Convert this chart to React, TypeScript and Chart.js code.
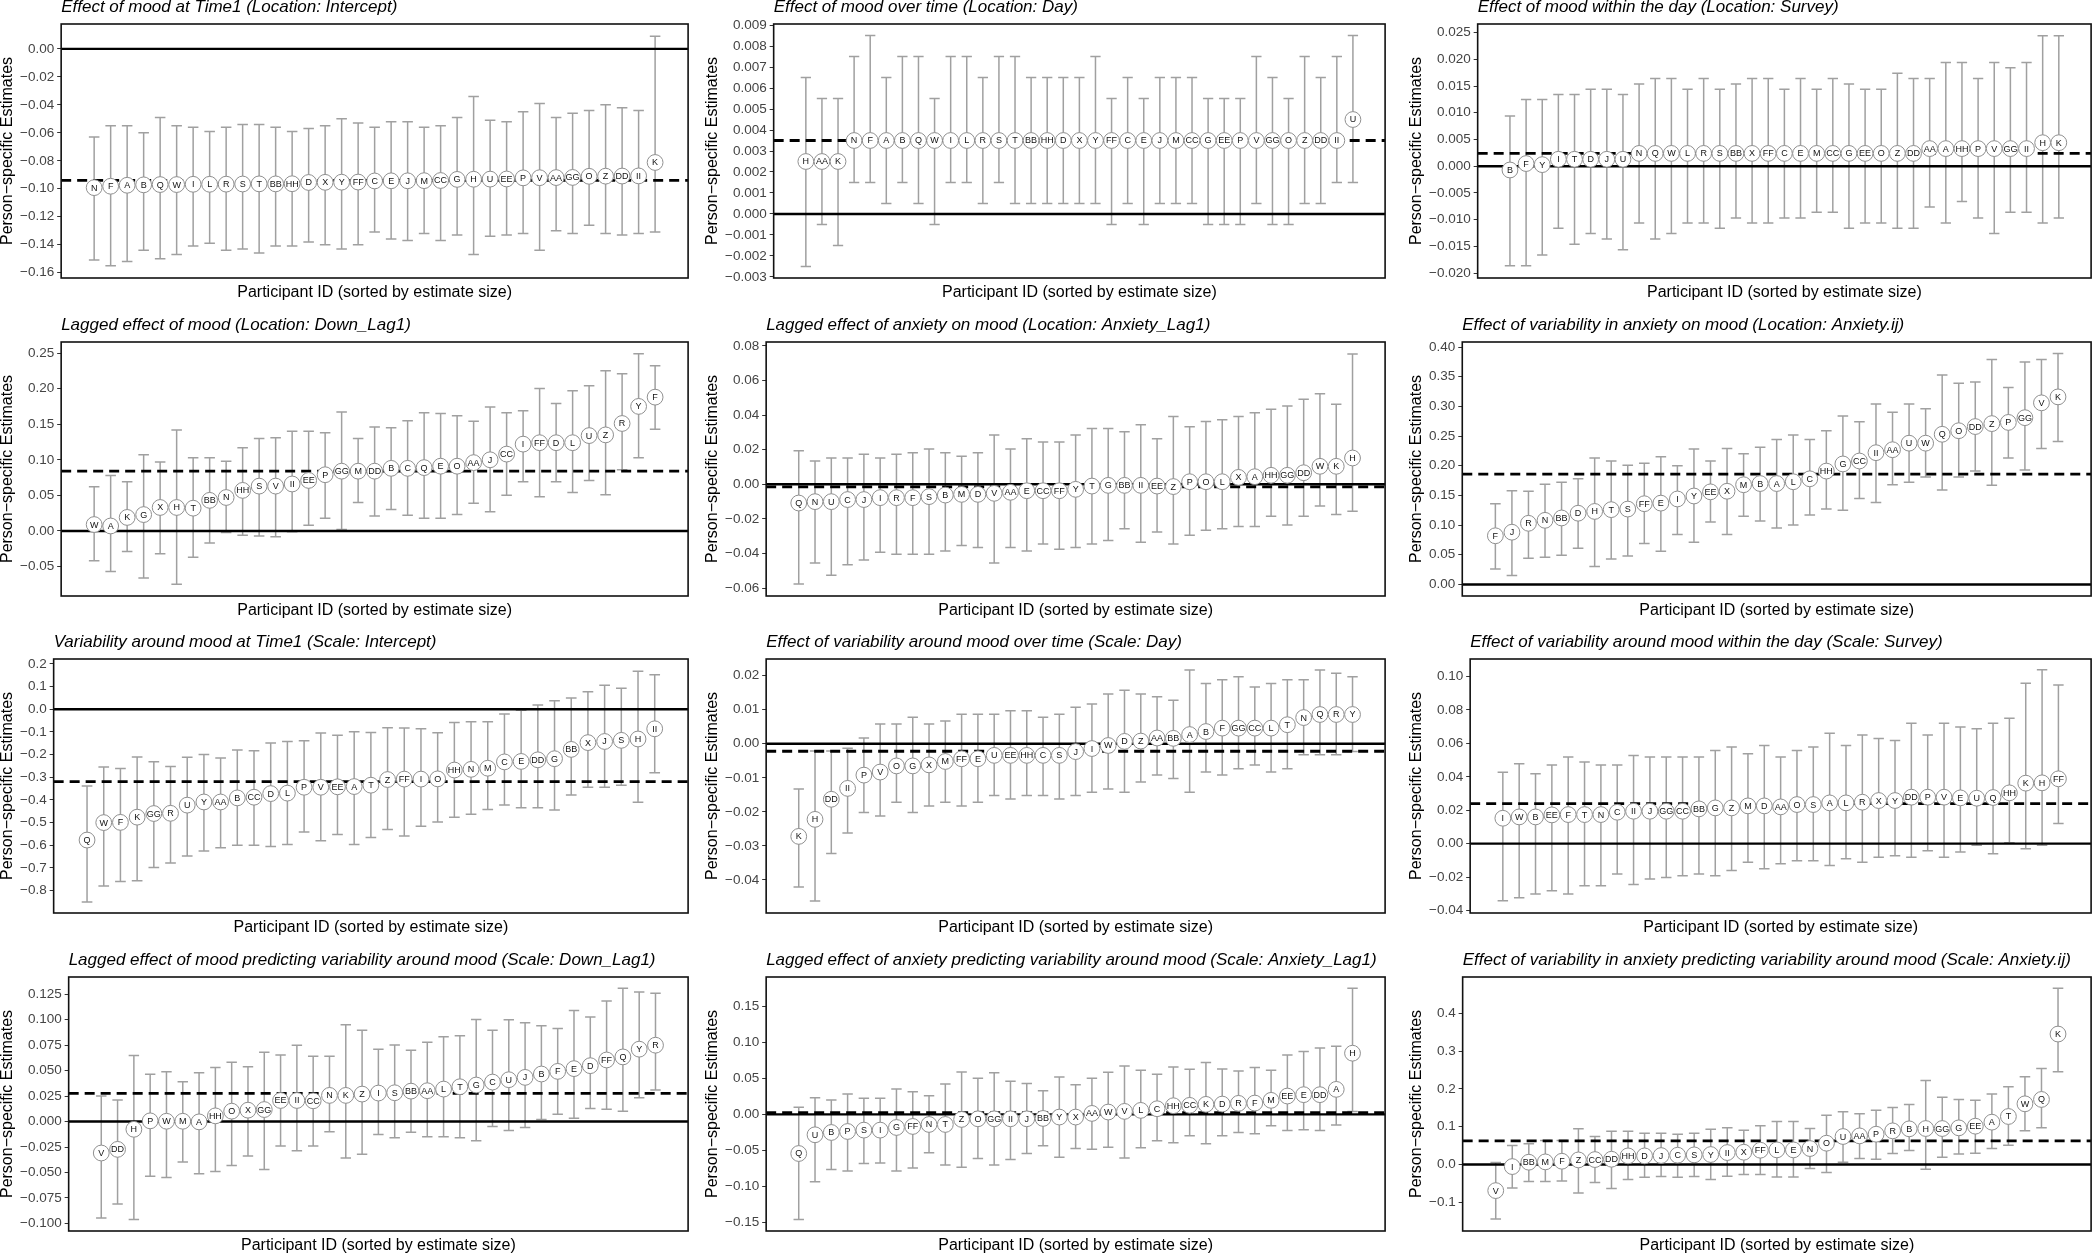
import React, { useEffect, useRef } from "react";
import { Chart, registerables } from "chart.js";

Chart.register(...registerables);

const FONT = '"Liberation Sans", Arial, Helvetica, sans-serif';
Chart.defaults.font.family = FONT;

const Y_TITLE = "Person\u2212specific Estimates";
const X_TITLE = "Participant ID (sorted by estimate size)";

// ---------- Panel 1 ----------
const title1 = "Effect of mood at Time1 (Location: Intercept)";
const ids1 = ["N","F","A","B","Q","W","I","L","R","S","T","BB","HH","D","X","Y","FF","C","E","J","M","CC","G","H","U","EE","P","V","AA","GG","O","Z","DD","II","K"];
const est1 = [-0.0992,-0.0982,-0.0975,-0.0972,-0.097,-0.097,-0.0968,-0.0968,-0.0967,-0.0966,-0.0965,-0.0965,-0.0964,-0.0955,-0.0954,-0.0953,-0.0952,-0.0944,-0.0943,-0.0943,-0.0942,-0.0941,-0.0933,-0.0932,-0.0931,-0.093,-0.0922,-0.0921,-0.092,-0.0919,-0.0911,-0.091,-0.0909,-0.0908,-0.0812];
const hi1 = [-0.063,-0.055,-0.055,-0.06,-0.049,-0.055,-0.056,-0.059,-0.056,-0.054,-0.054,-0.056,-0.059,-0.057,-0.055,-0.05,-0.053,-0.056,-0.052,-0.052,-0.056,-0.055,-0.049,-0.034,-0.051,-0.052,-0.045,-0.039,-0.049,-0.046,-0.044,-0.04,-0.042,-0.044,0.009];
const lo1 = [-0.151,-0.155,-0.152,-0.144,-0.15,-0.147,-0.141,-0.139,-0.144,-0.143,-0.146,-0.141,-0.141,-0.138,-0.14,-0.143,-0.14,-0.131,-0.136,-0.137,-0.132,-0.137,-0.133,-0.147,-0.134,-0.133,-0.132,-0.144,-0.13,-0.132,-0.126,-0.132,-0.133,-0.132,-0.131];
const mean1 = -0.094;
const range1 = [-0.1638, 0.0178];
const ticks1 = [-0.16,-0.14,-0.12,-0.1,-0.08,-0.06,-0.04,-0.02,0];
const tickLabels1 = ["\u22120.16","\u22120.14","\u22120.12","\u22120.10","\u22120.08","\u22120.06","\u22120.04","\u22120.02","0.00"];

// ---------- Panel 2 ----------
const title2 = "Effect of mood over time (Location: Day)";
const ids2 = ["H","AA","K","N","F","A","B","Q","W","I","L","R","S","T","BB","HH","D","X","Y","FF","C","E","J","M","CC","G","EE","P","V","GG","O","Z","DD","II","U"];
const est2 = [0.0025,0.0025,0.0025,0.0035,0.0035,0.0035,0.0035,0.0035,0.0035,0.0035,0.0035,0.0035,0.0035,0.0035,0.0035,0.0035,0.0035,0.0035,0.0035,0.0035,0.0035,0.0035,0.0035,0.0035,0.0035,0.0035,0.0035,0.0035,0.0035,0.0035,0.0035,0.0035,0.0035,0.0035,0.0045];
const hi2 = [0.0065,0.0055,0.0055,0.0075,0.0085,0.0065,0.0075,0.0075,0.0055,0.0075,0.0075,0.0065,0.0075,0.0075,0.0065,0.0065,0.0065,0.0065,0.0075,0.0055,0.0065,0.0055,0.0065,0.0065,0.0065,0.0055,0.0055,0.0055,0.0075,0.0065,0.0055,0.0075,0.0065,0.0075,0.0085];
const lo2 = [-0.0025,-0.0005,-0.0015,0.0015,0.0015,0.0005,0.0015,0.0005,-0.0005,0.0015,0.0015,0.0005,0.0015,0.0005,0.0005,0.0005,0.0005,0.0005,0.0005,-0.0005,0.0005,-0.0005,0.0005,0.0005,0.0005,-0.0005,-0.0005,-0.0005,0.0005,-0.0005,-0.0005,0.0005,0.0005,0.0015,0.0015];
const mean2 = 0.0035;
const range2 = [-0.00305, 0.00905];
const ticks2 = [-0.003,-0.002,-0.001,0,0.001,0.002,0.003,0.004,0.005,0.006,0.007,0.008,0.009];
const tickLabels2 = ["\u22120.003","\u22120.002","\u22120.001","0.000","0.001","0.002","0.003","0.004","0.005","0.006","0.007","0.008","0.009"];

// ---------- Panel 3 ----------
const title3 = "Effect of mood within the day (Location: Survey)";
const ids3 = ["B","F","Y","I","T","D","J","U","N","Q","W","L","R","S","BB","X","FF","C","E","M","CC","G","EE","O","Z","DD","AA","A","HH","P","V","GG","II","H","K"];
const est3 = [-0.0007,0.0005,0.0003,0.0013,0.0013,0.0013,0.0013,0.0013,0.0024,0.0024,0.0024,0.0024,0.0024,0.0024,0.0024,0.0024,0.0024,0.0024,0.0024,0.0024,0.0024,0.0024,0.0024,0.0024,0.0024,0.0024,0.0033,0.0033,0.0033,0.0033,0.0033,0.0033,0.0033,0.0044,0.0044];
const hi3 = [0.0094,0.0125,0.0125,0.0134,0.0134,0.0144,0.0144,0.0134,0.0154,0.0164,0.0164,0.0144,0.0164,0.0144,0.0154,0.0164,0.0164,0.0144,0.0164,0.0144,0.0164,0.0154,0.0144,0.0144,0.0174,0.0164,0.0164,0.0194,0.0194,0.0164,0.0194,0.0184,0.0194,0.0244,0.0244];
const lo3 = [-0.0186,-0.0186,-0.0166,-0.0116,-0.0146,-0.0126,-0.0136,-0.0156,-0.0106,-0.0136,-0.0126,-0.0106,-0.0106,-0.0116,-0.0097,-0.0106,-0.0106,-0.0097,-0.0097,-0.0086,-0.0086,-0.0116,-0.0106,-0.0106,-0.0116,-0.0116,-0.0076,-0.0106,-0.0066,-0.0097,-0.0126,-0.0086,-0.0086,-0.0106,-0.0097];
const mean3 = 0.0024;
const range3 = [-0.0209, 0.0266];
const ticks3 = [-0.02,-0.015,-0.01,-0.005,0,0.005,0.01,0.015,0.02,0.025];
const tickLabels3 = ["\u22120.020","\u22120.015","\u22120.010","\u22120.005","0.000","0.005","0.010","0.015","0.020","0.025"];

// ---------- Panel 4 ----------
const title4 = "Lagged effect of mood (Location: Down_Lag1)";
const ids4 = ["W","A","K","G","X","H","T","BB","N","HH","S","V","II","EE","P","GG","M","DD","B","C","Q","E","O","AA","J","CC","I","FF","D","L","U","Z","R","Y","F"];
const est4 = [0.009,0.007,0.019,0.023,0.033,0.033,0.032,0.043,0.047,0.057,0.063,0.063,0.066,0.071,0.079,0.084,0.084,0.084,0.088,0.088,0.089,0.091,0.091,0.096,0.1,0.108,0.122,0.124,0.124,0.124,0.134,0.135,0.151,0.175,0.188];
const hi4 = [0.062,0.078,0.069,0.107,0.097,0.142,0.103,0.103,0.098,0.117,0.13,0.131,0.14,0.14,0.138,0.167,0.13,0.146,0.145,0.155,0.166,0.165,0.162,0.154,0.174,0.166,0.169,0.2,0.179,0.197,0.204,0.225,0.221,0.249,0.232];
const lo4 = [-0.042,-0.057,-0.029,-0.066,-0.032,-0.075,-0.037,-0.017,-0.002,-0.006,-0.007,-0.008,-0.001,0.008,0.018,0.002,0.04,0.021,0.03,0.022,0.018,0.018,0.023,0.039,0.027,0.05,0.069,0.048,0.069,0.054,0.071,0.051,0.086,0.103,0.143];
const mean4 = 0.084;
const range4 = [-0.0914, 0.2655];
const ticks4 = [-0.05,0,0.05,0.1,0.15,0.2,0.25];
const tickLabels4 = ["\u22120.05","0.00","0.05","0.10","0.15","0.20","0.25"];

// ---------- Panel 5 ----------
const title5 = "Lagged effect of anxiety on mood (Location: Anxiety_Lag1)";
const ids5 = ["Q","N","U","C","J","I","R","F","S","B","M","D","V","AA","E","CC","FF","Y","T","G","BB","II","EE","Z","P","O","L","X","A","HH","GG","DD","W","K","H"];
const est5 = [-0.0108,-0.01,-0.01,-0.0088,-0.0088,-0.0077,-0.0077,-0.0077,-0.0071,-0.0062,-0.0058,-0.0058,-0.0052,-0.0046,-0.0037,-0.0037,-0.0037,-0.0029,-0.001,-0.0006,-0.0006,-0.0006,-0.001,-0.0013,0.0015,0.0015,0.0015,0.004,0.0044,0.0052,0.0052,0.0067,0.0104,0.0104,0.0152];
const hi5 = [0.0194,0.0135,0.0152,0.0152,0.0173,0.0152,0.0173,0.0183,0.0204,0.0183,0.0162,0.0183,0.0285,0.0204,0.0263,0.0244,0.0244,0.0285,0.0323,0.0323,0.0304,0.0344,0.0263,0.0392,0.0333,0.0363,0.0373,0.0392,0.0413,0.0433,0.0452,0.0492,0.0523,0.0463,0.0752];
const lo5 = [-0.0575,-0.0454,-0.0525,-0.0465,-0.0437,-0.0392,-0.0404,-0.0404,-0.0404,-0.0385,-0.0354,-0.0365,-0.0454,-0.0365,-0.0385,-0.0344,-0.0375,-0.0365,-0.0344,-0.0325,-0.0256,-0.0335,-0.0275,-0.0344,-0.0294,-0.0265,-0.0256,-0.0244,-0.0244,-0.0185,-0.0235,-0.0185,-0.0125,-0.0175,-0.0156];
const mean5 = -0.0015;
const range5 = [-0.0645, 0.0822];
const ticks5 = [-0.06,-0.04,-0.02,0,0.02,0.04,0.06,0.08];
const tickLabels5 = ["\u22120.06","\u22120.04","\u22120.02","0.00","0.02","0.04","0.06","0.08"];

// ---------- Panel 6 ----------
const title6 = "Effect of variability in anxiety on mood (Location: Anxiety.ij)";
const ids6 = ["F","J","R","N","BB","D","H","T","S","FF","E","I","Y","EE","X","M","B","A","L","C","HH","G","CC","II","AA","U","W","Q","O","DD","Z","P","GG","V","K"];
const est6 = [0.082,0.088,0.103,0.108,0.112,0.12,0.123,0.126,0.127,0.136,0.137,0.144,0.149,0.156,0.157,0.168,0.17,0.17,0.173,0.178,0.191,0.203,0.208,0.222,0.227,0.238,0.238,0.253,0.259,0.266,0.271,0.273,0.281,0.306,0.316];
const hi6 = [0.136,0.158,0.157,0.169,0.172,0.178,0.213,0.208,0.201,0.204,0.215,0.2,0.228,0.208,0.229,0.22,0.231,0.244,0.252,0.244,0.259,0.284,0.274,0.304,0.29,0.304,0.296,0.353,0.339,0.341,0.379,0.332,0.375,0.379,0.389];
const lo6 = [0.026,0.015,0.044,0.046,0.049,0.061,0.03,0.043,0.048,0.069,0.056,0.084,0.071,0.105,0.084,0.115,0.107,0.095,0.1,0.117,0.127,0.125,0.145,0.138,0.168,0.172,0.181,0.159,0.181,0.191,0.167,0.213,0.193,0.229,0.241];
const mean6 = 0.186;
const range6 = [-0.0195, 0.4085];
const ticks6 = [0,0.05,0.1,0.15,0.2,0.25,0.3,0.35,0.4];
const tickLabels6 = ["0.00","0.05","0.10","0.15","0.20","0.25","0.30","0.35","0.40"];

// ---------- Panel 7 ----------
const title7 = "Variability around mood at Time1 (Scale: Intercept)";
const ids7 = ["Q","W","F","K","GG","R","U","Y","AA","B","CC","D","L","P","V","EE","A","T","Z","FF","I","O","HH","N","M","C","E","DD","G","BB","X","J","S","H","II"];
const est7 = [-0.577,-0.5,-0.499,-0.476,-0.46,-0.459,-0.423,-0.409,-0.409,-0.391,-0.388,-0.372,-0.37,-0.344,-0.344,-0.342,-0.341,-0.335,-0.31,-0.308,-0.308,-0.307,-0.268,-0.265,-0.26,-0.232,-0.23,-0.223,-0.218,-0.177,-0.147,-0.142,-0.137,-0.131,-0.086];
const hi7 = [-0.338,-0.255,-0.261,-0.211,-0.232,-0.252,-0.212,-0.199,-0.215,-0.18,-0.183,-0.149,-0.142,-0.139,-0.105,-0.115,-0.099,-0.102,-0.081,-0.083,-0.086,-0.103,-0.058,-0.055,-0.055,-0.021,-0.004,0.019,0.038,0.05,0.077,0.106,0.093,0.168,0.152];
const lo7 = [-0.851,-0.78,-0.76,-0.757,-0.698,-0.678,-0.647,-0.625,-0.611,-0.6,-0.6,-0.605,-0.597,-0.541,-0.58,-0.552,-0.597,-0.566,-0.531,-0.559,-0.516,-0.497,-0.476,-0.463,-0.442,-0.422,-0.435,-0.434,-0.444,-0.378,-0.344,-0.344,-0.335,-0.41,-0.28];
const mean7 = -0.319;
const range7 = [-0.899, 0.222];
const ticks7 = [-0.8,-0.7,-0.6,-0.5,-0.4,-0.3,-0.2,-0.1,0,0.1,0.2];
const tickLabels7 = ["\u22120.8","\u22120.7","\u22120.6","\u22120.5","\u22120.4","\u22120.3","\u22120.2","\u22120.1","0.0","0.1","0.2"];

// ---------- Panel 8 ----------
const title8 = "Effect of variability around mood over time (Scale: Day)";
const ids8 = ["K","H","DD","II","P","V","O","G","X","M","FF","E","U","EE","HH","C","S","J","I","W","D","Z","AA","BB","A","B","F","GG","CC","L","T","N","Q","R","Y"];
const est8 = [-0.0272,-0.0222,-0.0163,-0.0131,-0.0092,-0.0083,-0.0065,-0.0065,-0.0062,-0.0052,-0.0044,-0.0044,-0.0034,-0.0034,-0.0034,-0.0034,-0.0034,-0.0023,-0.0014,-0.0005,0.0007,0.0008,0.0017,0.0016,0.0027,0.0036,0.0046,0.0046,0.0046,0.0046,0.0056,0.0077,0.0086,0.0086,0.0086];
const hi8 = [-0.0133,-0.0021,-0.0021,-0.0013,0.0017,0.0058,0.0058,0.0078,0.0058,0.0067,0.0087,0.0087,0.0087,0.0097,0.0097,0.0078,0.0087,0.0107,0.0117,0.0146,0.0157,0.0146,0.0138,0.0128,0.0217,0.0177,0.0188,0.0197,0.0167,0.0177,0.0188,0.0188,0.0217,0.0207,0.0197];
const lo8 = [-0.0421,-0.0462,-0.0322,-0.0262,-0.0202,-0.0212,-0.0172,-0.0202,-0.0183,-0.0172,-0.0183,-0.0172,-0.0152,-0.0162,-0.0152,-0.0152,-0.0162,-0.0152,-0.0142,-0.0133,-0.0142,-0.0112,-0.0092,-0.0102,-0.0142,-0.0083,-0.0092,-0.0073,-0.0062,-0.0083,-0.0073,-0.0032,-0.0032,-0.0032,-0.0023];
const mean8 = -0.0022;
const range8 = [-0.0497, 0.0249];
const ticks8 = [-0.04,-0.03,-0.02,-0.01,0,0.01,0.02];
const tickLabels8 = ["\u22120.04","\u22120.03","\u22120.02","\u22120.01","0.00","0.01","0.02"];

// ---------- Panel 9 ----------
const title9 = "Effect of variability around mood within the day (Scale: Survey)";
const ids9 = ["I","W","B","EE","F","T","N","C","II","J","GG","CC","BB","G","Z","M","D","AA","O","S","A","L","R","X","Y","DD","P","V","E","U","Q","HH","K","H","FF"];
const est9 = [0.0152,0.016,0.016,0.0172,0.0174,0.0174,0.0174,0.0188,0.0194,0.0194,0.0194,0.0194,0.0208,0.0214,0.0214,0.0226,0.0226,0.022,0.0234,0.0234,0.0244,0.0244,0.0248,0.0258,0.0258,0.0278,0.0278,0.0278,0.0274,0.0272,0.0276,0.0304,0.0362,0.0364,0.0388];
const hi9 = [0.0428,0.0478,0.0418,0.047,0.0518,0.0488,0.047,0.047,0.0528,0.0518,0.0518,0.0518,0.0518,0.0558,0.0578,0.0538,0.0588,0.0518,0.0558,0.0578,0.066,0.0588,0.065,0.063,0.0618,0.072,0.065,0.072,0.0698,0.0688,0.072,0.075,0.096,0.104,0.095];
const lo9 = [-0.0342,-0.0324,-0.0302,-0.0282,-0.0302,-0.0252,-0.0252,-0.0182,-0.0244,-0.0212,-0.0202,-0.0192,-0.0182,-0.0192,-0.016,-0.0112,-0.015,-0.012,-0.0102,-0.0102,-0.013,-0.009,-0.0112,-0.0082,-0.0072,-0.0082,-0.0042,-0.0082,-0.005,-0.001,-0.006,0.0006,-0.003,-0.001,0.012];
const mean9 = 0.024;
const range9 = [-0.0415, 0.1105];
const ticks9 = [-0.04,-0.02,0,0.02,0.04,0.06,0.08,0.1];
const tickLabels9 = ["\u22120.04","\u22120.02","0.00","0.02","0.04","0.06","0.08","0.10"];

// ---------- Panel 10 ----------
const title10 = "Lagged effect of mood predicting variability around mood (Scale: Down_Lag1)";
const ids10 = ["V","DD","H","P","W","M","A","HH","O","X","GG","EE","II","CC","N","K","Z","I","S","BB","AA","L","T","G","C","U","J","B","F","E","D","FF","Q","Y","R"];
const est10 = [-0.0309,-0.0273,-0.0076,0.0007,0.0003,0.0003,-0.0003,0.0056,0.0102,0.0112,0.0118,0.0207,0.0207,0.0204,0.0257,0.0257,0.027,0.028,0.0283,0.0299,0.0303,0.0319,0.0342,0.0359,0.0388,0.0411,0.0434,0.0467,0.0493,0.052,0.0549,0.0605,0.0635,0.0711,0.075];
const hi10 = [0.025,0.0211,0.0648,0.0464,0.049,0.0391,0.048,0.053,0.0582,0.0539,0.0681,0.0655,0.075,0.0641,0.0641,0.0951,0.0898,0.0711,0.0753,0.0701,0.078,0.0832,0.0842,0.1003,0.0898,0.1,0.097,0.0941,0.0914,0.1092,0.1026,0.1184,0.1309,0.1273,0.126];
const lo10 = [-0.0947,-0.0809,-0.0961,-0.0536,-0.0549,-0.0398,-0.0513,-0.049,-0.0431,-0.0339,-0.047,-0.024,-0.0286,-0.024,-0.0099,-0.0359,-0.0322,-0.0128,-0.0158,-0.0105,-0.0148,-0.0148,-0.0158,-0.0188,-0.0049,-0.0089,-0.0059,0.002,0.0072,0.0033,0.0128,0.0122,0.0102,0.0234,0.0309];
const mean10 = 0.0276;
const range10 = [-0.1075, 0.142];
const ticks10 = [-0.1,-0.075,-0.05,-0.025,0,0.025,0.05,0.075,0.1,0.125];
const tickLabels10 = ["\u22120.100","\u22120.075","\u22120.050","\u22120.025","0.000","0.025","0.050","0.075","0.100","0.125"];

// ---------- Panel 11 ----------
const title11 = "Lagged effect of anxiety predicting variability around mood (Scale: Anxiety_Lag1)";
const ids11 = ["Q","U","B","P","S","I","G","FF","N","T","Z","O","GG","II","J","BB","Y","X","AA","W","V","L","C","HH","CC","K","D","R","F","M","EE","E","DD","A","H"];
const est11 = [-0.0545,-0.0284,-0.0252,-0.0238,-0.0219,-0.0219,-0.0182,-0.0168,-0.014,-0.014,-0.007,-0.0061,-0.0061,-0.0061,-0.0061,-0.0056,-0.0037,-0.0037,0.0014,0.0033,0.0042,0.0056,0.0079,0.0121,0.0126,0.014,0.0144,0.0154,0.0158,0.0196,0.0256,0.0275,0.0275,0.0349,0.0853];
const hi11 = [0.0098,0.0233,0.02,0.0284,0.0224,0.0224,0.0354,0.0317,0.0261,0.0424,0.0592,0.0503,0.0582,0.0461,0.0429,0.0331,0.0522,0.0415,0.0503,0.0587,0.0676,0.0615,0.0559,0.0662,0.0629,0.0722,0.0634,0.0606,0.0652,0.0615,0.0829,0.0876,0.0927,0.0951,0.1757];
const lo11 = [-0.1463,-0.0937,-0.0769,-0.0788,-0.0685,-0.0676,-0.0788,-0.0746,-0.0536,-0.0704,-0.0736,-0.0615,-0.0704,-0.0629,-0.0545,-0.0438,-0.0596,-0.0475,-0.0485,-0.0457,-0.0606,-0.0466,-0.0368,-0.0396,-0.0298,-0.041,-0.0298,-0.0252,-0.027,-0.0158,-0.0224,-0.0214,-0.0224,-0.0149,0.0042];
const mean11 = 0.0023;
const range11 = [-0.1625, 0.1915];
const ticks11 = [-0.15,-0.1,-0.05,0,0.05,0.1,0.15];
const tickLabels11 = ["\u22120.15","\u22120.10","\u22120.05","0.00","0.05","0.10","0.15"];

// ---------- Panel 12 ----------
const title12 = "Effect of variability in anxiety predicting variability around mood (Scale: Anxiety.ij)";
const ids12 = ["V","I","BB","M","F","Z","CC","DD","HH","D","J","C","S","Y","II","X","FF","L","E","N","O","U","AA","P","R","B","H","GG","G","EE","A","T","W","Q","K"];
const est12 = [-0.0688,-0.0053,0.0062,0.0071,0.0088,0.0123,0.0132,0.0141,0.0229,0.0229,0.0238,0.0247,0.0256,0.0265,0.0317,0.0326,0.0379,0.0388,0.0388,0.0423,0.0564,0.0741,0.0758,0.0802,0.0891,0.0944,0.0952,0.0952,0.097,0.1014,0.112,0.127,0.1605,0.172,0.3448];
const hi12 = [0.0053,0.0503,0.0547,0.0635,0.0635,0.0944,0.0741,0.0882,0.0882,0.0829,0.0829,0.0802,0.0829,0.0935,0.097,0.0908,0.1023,0.1138,0.1138,0.0952,0.1305,0.1393,0.134,0.1437,0.1508,0.1587,0.2222,0.1781,0.172,0.1702,0.1861,0.2055,0.2319,0.254,0.4656];
const lo12 = [-0.1437,-0.0617,-0.045,-0.045,-0.0432,-0.075,-0.0476,-0.0635,-0.0397,-0.0335,-0.0317,-0.0335,-0.0317,-0.0397,-0.0309,-0.0265,-0.0265,-0.0326,-0.0326,-0.0106,-0.0212,0.0062,0.0159,0.0141,0.0291,0.037,-0.0123,0.0194,0.0282,0.03,0.0423,0.0511,0.0891,0.097,0.2451];
const mean12 = 0.0626;
const range12 = [-0.1755, 0.4955];
const ticks12 = [-0.1,0,0.1,0.2,0.3,0.4];
const tickLabels12 = ["\u22120.1","0.0","0.1","0.2","0.3","0.4"];

type PanelDef = {
  title: string; ids: string[]; est: number[]; lo: number[]; hi: number[];
  mean: number; range: number[]; ticks: number[]; tickLabels: string[];
};

const panels: PanelDef[] = [
  { title: title1, ids: ids1, est: est1, lo: lo1, hi: hi1, mean: mean1, range: range1, ticks: ticks1, tickLabels: tickLabels1 },
  { title: title2, ids: ids2, est: est2, lo: lo2, hi: hi2, mean: mean2, range: range2, ticks: ticks2, tickLabels: tickLabels2 },
  { title: title3, ids: ids3, est: est3, lo: lo3, hi: hi3, mean: mean3, range: range3, ticks: ticks3, tickLabels: tickLabels3 },
  { title: title4, ids: ids4, est: est4, lo: lo4, hi: hi4, mean: mean4, range: range4, ticks: ticks4, tickLabels: tickLabels4 },
  { title: title5, ids: ids5, est: est5, lo: lo5, hi: hi5, mean: mean5, range: range5, ticks: ticks5, tickLabels: tickLabels5 },
  { title: title6, ids: ids6, est: est6, lo: lo6, hi: hi6, mean: mean6, range: range6, ticks: ticks6, tickLabels: tickLabels6 },
  { title: title7, ids: ids7, est: est7, lo: lo7, hi: hi7, mean: mean7, range: range7, ticks: ticks7, tickLabels: tickLabels7 },
  { title: title8, ids: ids8, est: est8, lo: lo8, hi: hi8, mean: mean8, range: range8, ticks: ticks8, tickLabels: tickLabels8 },
  { title: title9, ids: ids9, est: est9, lo: lo9, hi: hi9, mean: mean9, range: range9, ticks: ticks9, tickLabels: tickLabels9 },
  { title: title10, ids: ids10, est: est10, lo: lo10, hi: hi10, mean: mean10, range: range10, ticks: ticks10, tickLabels: tickLabels10 },
  { title: title11, ids: ids11, est: est11, lo: lo11, hi: hi11, mean: mean11, range: range11, ticks: ticks11, tickLabels: tickLabels11 },
  { title: title12, ids: ids12, est: est12, lo: lo12, hi: hi12, mean: mean12, range: range12, ticks: ticks12, tickLabels: tickLabels12 },
];

// layout of the 3 x 4 grid
const COL_X = [0, 697, 1393];
const COL_W = [697, 697, 707];
const COL_PADL = [0, 8, 16];
const COL_PADR = [7, 1, 4];
const ROW_Y = [-2, 316, 633, 951];
const PANEL_H = 312;

function makePlugin(p: PanelDef) {
  return {
    id: "forestPanel",
    beforeDatasetsDraw(chart: any) {
      const { ctx, chartArea: a, scales } = chart;
      const xs = scales.x, ys = scales.y;
      ctx.save();
      // error bars
      ctx.strokeStyle = "#a0a0a0";
      ctx.lineWidth = 1.5;
      const cap = xs.getPixelForValue(0.32) - xs.getPixelForValue(0);
      p.lo.forEach((lo, i) => {
        const px = xs.getPixelForValue(i);
        const y1 = ys.getPixelForValue(lo);
        const y2 = ys.getPixelForValue(p.hi[i]);
        ctx.beginPath();
        ctx.moveTo(px, y1); ctx.lineTo(px, y2);
        ctx.moveTo(px - cap, y1); ctx.lineTo(px + cap, y1);
        ctx.moveTo(px - cap, y2); ctx.lineTo(px + cap, y2);
        ctx.stroke();
      });
      // zero line
      ctx.strokeStyle = "#000";
      ctx.lineWidth = 2.4;
      const y0 = ys.getPixelForValue(0);
      ctx.beginPath(); ctx.moveTo(a.left, y0); ctx.lineTo(a.right, y0); ctx.stroke();
      // mean line
      ctx.lineWidth = 2.8;
      ctx.setLineDash([10, 6]);
      const ym = ys.getPixelForValue(p.mean);
      ctx.beginPath(); ctx.moveTo(a.left, ym); ctx.lineTo(a.right, ym); ctx.stroke();
      ctx.restore();
    },
    afterDatasetsDraw(chart: any) {
      const { ctx } = chart;
      const meta = chart.getDatasetMeta(0);
      ctx.save();
      ctx.fillStyle = "#111";
      ctx.font = `9px ${FONT}`;
      ctx.textAlign = "center";
      ctx.textBaseline = "middle";
      meta.data.forEach((el: any, i: number) => {
        ctx.fillText(p.ids[i], el.x, el.y + 0.5);
      });
      ctx.restore();
    },
    afterDraw(chart: any) {
      const { ctx, chartArea: a } = chart;
      ctx.save();
      ctx.strokeStyle = "#111";
      ctx.lineWidth = 1.6;
      ctx.strokeRect(a.left, a.top, a.right - a.left, a.bottom - a.top);
      ctx.fillStyle = "#000";
      ctx.font = `italic 17px ${FONT}`;
      ctx.textAlign = "left";
      ctx.textBaseline = "middle";
      ctx.fillText(p.title, a.left, a.top - 17);
      ctx.restore();
    },
  };
}

function PanelChart({ p, row, col }: { p: PanelDef; row: number; col: number }) {
  const ref = useRef<HTMLCanvasElement | null>(null);
  useEffect(() => {
    if (!ref.current) return;
    const chart = new Chart(ref.current, {
      type: "scatter",
      data: {
        datasets: [
          {
            data: p.est.map((v, i) => ({ x: i, y: v })),
            pointStyle: "circle",
            pointRadius: 7.9,
            pointHoverRadius: 7.9,
            pointBackgroundColor: "#ffffff",
            pointBorderColor: "#8f8f8f",
            pointBorderWidth: 1,
          },
        ],
      },
      options: {
        animation: false,
        responsive: false,
        devicePixelRatio: 1,
        events: [],
        layout: { padding: { left: COL_PADL[col], right: COL_PADR[col], top: 26, bottom: 0 } },
        plugins: { legend: { display: false }, tooltip: { enabled: false }, title: { display: false } },
        scales: {
          x: {
            type: "linear",
            min: -2,
            max: p.ids.length + 1,
            ticks: { display: false },
            grid: { display: false },
            border: { display: false },
            title: {
              display: true,
              text: X_TITLE,
              color: "#000",
              font: { size: 16, family: FONT, lineHeight: 1 },
              padding: { top: 0, bottom: 9 },
            },
            afterFit: (s: any) => { s.height = 32; },
          },
          y: {
            type: "linear",
            min: p.range[0],
            max: p.range[1],
            afterBuildTicks: (axis: any) => { axis.ticks = p.ticks.map((v) => ({ value: v })); },
            ticks: {
              autoSkip: false,
              callback: (_v: any, i: number) => p.tickLabels[i],
              color: "#444",
              font: { size: 13.5, family: FONT },
              padding: 3,
            },
            grid: { display: true, drawOnChartArea: false, drawTicks: true, tickLength: 4, color: "#333", lineWidth: 1 },
            border: { display: false },
            title: {
              display: true,
              text: Y_TITLE,
              color: "#000",
              font: { size: 16, family: FONT, lineHeight: 1 },
              padding: { top: 0, bottom: 1 },
            },
          },
        },
      } as any,
      plugins: [makePlugin(p)],
    });
    return () => chart.destroy();
  }, [p, row, col]);
  return (
    <canvas
      ref={ref}
      width={COL_W[col]}
      height={PANEL_H}
      style={{ position: "absolute", left: COL_X[col], top: ROW_Y[row], width: COL_W[col], height: PANEL_H }}
    />
  );
}

export default function App() {
  return (
    <div style={{ position: "absolute", left: 0, top: 0, width: 2100, height: 1253, overflow: "hidden", background: "#fff" }}>
      {panels.map((p, k) => (
        <PanelChart key={k} p={p} row={Math.floor(k / 3)} col={k % 3} />
      ))}
    </div>
  );
}
